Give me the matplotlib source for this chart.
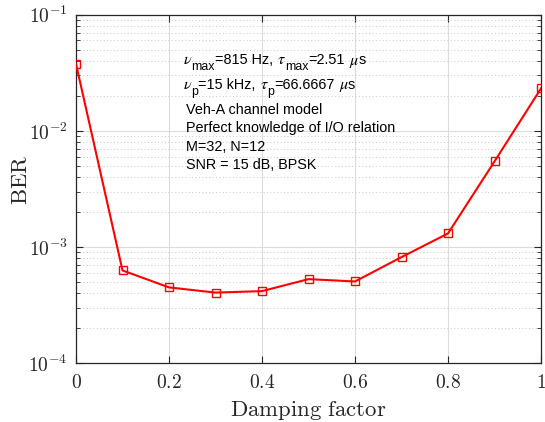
import numpy as np
import matplotlib
matplotlib.use("Agg")
import matplotlib.pyplot as plt
from matplotlib.ticker import LogLocator, FixedLocator, NullFormatter, FuncFormatter

# Damping factor sweep and measured BER
damping = [0.0, 0.1, 0.2, 0.3, 0.4, 0.5, 0.6, 0.7, 0.8, 0.9, 1.0]
ber = [3.77e-2, 6.3e-4, 4.5e-4, 4.06e-4, 4.18e-4, 5.3e-4, 5.06e-4, 8.2e-4, 1.31e-3, 5.46e-3, 2.32e-2]

x_ticks = [0, 0.2, 0.4, 0.6, 0.8, 1.0]
x_tick_labels = ["0", "0.2", "0.4", "0.6", "0.8", "1"]

# Annotation lines as (text, style) runs: "t" plain, "g" greek symbol, "s" subscript, " " space
info_lines = [
    [(r"\nu", "g"), ("max", "s"), ("=815 Hz,", "t"), ("", " "), (r"\tau", "g"),
     ("max", "s"), ("=2.51", "t"), ("", " "), (r"\mu", "g"), ("s", "t")],
    [(r"\nu", "g"), ("p", "s"), ("=15 kHz,", "t"), ("", " "), (r"\tau", "g"),
     ("p", "s"), ("=66.6667", "t"), ("", " "), (r"\mu", "g"), ("s", "t")],
    [("Veh-A channel model", "t")],
    [("Perfect knowledge of I/O relation", "t")],
    [("M=32, N=12", "t")],
    [("SNR = 15 dB, BPSK", "t")],
]

W, H = 545, 422
axis_col = "#262626"

fig = plt.figure(figsize=(W / 100, H / 100), dpi=100)
ax = fig.add_axes([76 / W, 1 - 363.3 / H, (541 - 76) / W, (363.3 - 14.7) / H])

ax.plot(damping, ber, color="#ff0000", lw=1.5, marker="s", ms=5.5,
        mfc="none", mec="#ff0000", mew=1.0, zorder=3)

ax.set_yscale("log")
ax.set_xlim(0, 1)
ax.set_ylim(1e-4, 1e-1)

ax.xaxis.set_major_locator(FixedLocator(x_ticks))
ax.set_xticklabels([f"${t}$" for t in x_tick_labels])
ax.yaxis.set_major_locator(LogLocator(base=10, numticks=10))
ax.yaxis.set_minor_locator(LogLocator(base=10, subs=np.arange(2, 10), numticks=20))
ax.yaxis.set_minor_formatter(NullFormatter())
ax.yaxis.set_major_formatter(FuncFormatter(lambda v, p: r"$10^{%d}$" % round(np.log10(v))))

for lab in ax.get_xticklabels() + ax.get_yticklabels():
    lab.set_math_fontfamily("cm")
    lab.set_fontsize(14)
    lab.set_color(axis_col)

ax.tick_params(which="both", direction="in", top=True, right=True, colors=axis_col)
ax.tick_params(which="major", length=5, width=0.8)
ax.tick_params(axis="x", which="major", pad=7)
ax.tick_params(axis="y", which="major", pad=6)
ax.tick_params(which="minor", length=3, width=0.6)

ax.grid(True, which="major", color="#dcdcdc", lw=0.8, ls="-", zorder=0)
ax.yaxis.grid(True, which="minor", color="#c8c8c8", lw=0.7, ls=(0, (1, 2.5)), zorder=0)
ax.set_axisbelow(True)

for s in ax.spines.values():
    s.set_color(axis_col)
    s.set_linewidth(0.9)

ax.set_xlabel(r"$\mathrm{Damping\ factor}$", fontsize=16.4, color=axis_col,
              math_fontfamily="cm", labelpad=5)
ax.set_ylabel(r"$\mathrm{BER}$", fontsize=16.4, color=axis_col,
              math_fontfamily="cm")
ax.yaxis.set_label_coords(-0.095, 0.526)

# Annotation block, laid out run by run
renderer = fig.canvas.get_renderer()
fs_text = 10.4
space_px = 0.278 * fs_text * 100 / 72
x_left = 186
baselines = [64.5, 89, 114, 132.3, 151, 169]

for runs, base in zip(info_lines, baselines):
    x = x_left - (3 if runs[0][1] == "g" else 0)
    for txt, kind in runs:
        if kind == " ":
            x += space_px
            continue
        if kind == "g":
            t = fig.text(x / W, 1 - base / H, f"${txt}$", fontsize=11.5,
                         math_fontfamily="stix", va="baseline", ha="left")
        elif kind == "s":
            t = fig.text(x / W, 1 - (base + 6) / H, txt, fontsize=8.9,
                         family="Liberation Sans", va="baseline", ha="left")
        else:
            t = fig.text(x / W, 1 - base / H, txt, fontsize=fs_text,
                         family="Liberation Sans", va="baseline", ha="left")
        x += t.get_window_extent(renderer).width - (1 if kind == "g" else 0)

fig.savefig("out.png", dpi=100, facecolor="white")
